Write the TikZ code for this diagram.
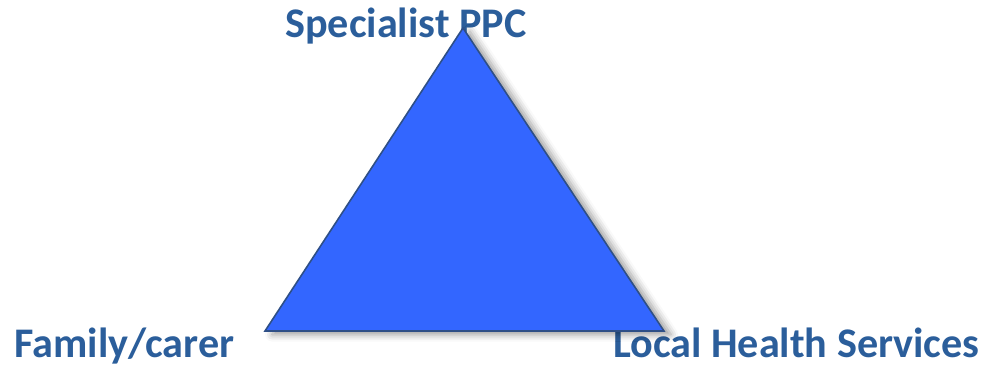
\documentclass[tikz,border=0pt]{standalone}
\usepackage{fontspec}
\setmainfont{Carlito}
\usetikzlibrary{shadows.blur}
\definecolor{ppcblue}{HTML}{3366FF}
\definecolor{ppcedge}{HTML}{2E4F86}
\definecolor{ppctext}{HTML}{2B5E9B}
\begin{document}
\begin{tikzpicture}[
  x=0.02cm, y=0.02cm,
  corner/.style={font=\fontsize{24}{28}\selectfont\bfseries, text=ppctext, inner sep=0pt, anchor=base west},
]
\useasboundingbox (0,0) rectangle (984,367);

% labels
\node[corner] (spec) at (285,329) {Specialist PPC};
\node[corner] (fam) at (14,9) {Family/carer};
\node[corner] (lhs) at (613,9) {Local Health Services};

% triangle of care, over the labels
\coordinate (top) at (463,339);
\coordinate (left) at (265,36);
\coordinate (right) at (664,36);
\draw[ppcedge, line width=0.9pt, fill=ppcblue, line join=miter,
      blur shadow={shadow xshift=4pt, shadow yshift=-2pt, shadow blur radius=4pt, shadow opacity=40}]
  (left) -- (top) -- (right) -- cycle;
\end{tikzpicture}
\end{document}
